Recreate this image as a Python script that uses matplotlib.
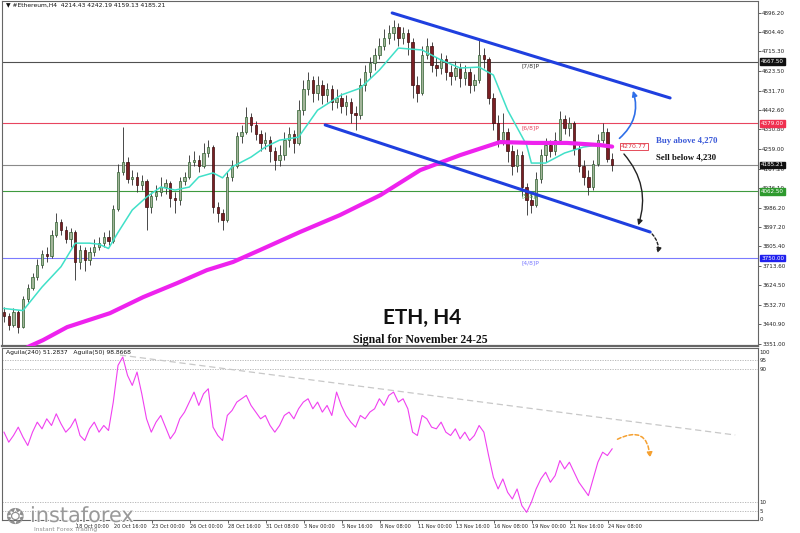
import numpy as np
import matplotlib
matplotlib.use("Agg")
import matplotlib.pyplot as plt
import matplotlib.transforms as mtransforms
import matplotlib.patheffects as pe
from matplotlib.patches import FancyArrowPatch

# ---- data (one candle = 8h) ----
closes = [3480, 3440, 3500, 3430, 3560, 3610, 3660, 3720, 3770, 3760,
          3860, 3920, 3880, 3840, 3870, 3730, 3790, 3740, 3780, 3800,
          3820, 3850, 3830, 3980, 4150, 4200, 4120, 4130, 4090, 4110,
          3990, 4040, 4060, 4080, 4100, 4030, 4020, 4110, 4130, 4200,
          4210, 4180, 4240, 4270, 3990, 3960, 3930, 4130, 4180, 4320,
          4340, 4410, 4370, 4330, 4290, 4300, 4250, 4210, 4230, 4300,
          4330, 4290, 4440, 4540, 4580, 4520, 4560, 4510, 4540, 4480,
          4500, 4460, 4480, 4430, 4420, 4560, 4620, 4660, 4700, 4740,
          4780, 4800, 4830, 4780, 4800, 4760, 4560, 4520, 4700, 4740,
          4650, 4640, 4680, 4620, 4600, 4640, 4590, 4620, 4560, 4580,
          4700, 4680, 4500, 4380, 4300, 4340, 4250, 4180, 4230, 4080,
          4020, 4000, 4120, 4230, 4280, 4250, 4300, 4400, 4360, 4380,
          4260, 4180, 4130, 4080, 4190, 4300, 4340, 4214.43, 4185.21]
highs = [3520, 3495, 3515, 3510, 3575, 3630, 3680, 3745, 3790, 3800,
         3880, 3960, 3935, 3900, 3890, 3880, 3810, 3800, 3800, 3840,
         3850, 3870, 3880, 4000, 4190, 4362, 4220, 4160, 4150, 4140,
         4120, 4060, 4090, 4130, 4120, 4110, 4060, 4130, 4150, 4230,
         4250, 4230, 4290, 4300, 4280, 4010, 3980, 4150, 4210, 4340,
         4370, 4455, 4430, 4390, 4350, 4340, 4320, 4270, 4280, 4340,
         4362, 4350, 4490, 4580, 4620, 4600, 4600, 4580, 4570, 4560,
         4540, 4520, 4510, 4500, 4460, 4590, 4650, 4690, 4730, 4780,
         4820, 4840, 4860, 4850, 4830, 4820, 4780, 4600, 4740, 4780,
         4760, 4690, 4710, 4700, 4650, 4670, 4660, 4650, 4640, 4610,
         4770, 4730, 4690, 4520, 4420, 4430, 4360, 4280, 4260, 4250,
         4100, 4060, 4150, 4260, 4310, 4300, 4340, 4435, 4420, 4410,
         4390, 4280, 4210, 4160, 4210, 4330, 4380, 4360, 4242.19]
lows = [3450, 3415, 3430, 3400, 3425, 3545, 3600, 3650, 3705, 3730,
        3750, 3850, 3860, 3820, 3800, 3650, 3700, 3690, 3720, 3760,
        3790, 3800, 3810, 3820, 3970, 4140, 4100, 4090, 4060, 4070,
        3880, 3960, 4020, 4040, 4050, 3990, 3960, 4000, 4090, 4120,
        4180, 4150, 4170, 4220, 3960, 3920, 3880, 3920, 4110, 4170,
        4290, 4330, 4340, 4300, 4250, 4260, 4200, 4160, 4180, 4210,
        4270, 4240, 4280, 4420, 4510, 4480, 4490, 4470, 4480, 4440,
        4450, 4430, 4420, 4380, 4350, 4400, 4530, 4590, 4630, 4680,
        4720, 4750, 4770, 4740, 4750, 4700, 4500, 4480, 4510, 4680,
        4620, 4600, 4610, 4580, 4560, 4580, 4550, 4560, 4520, 4530,
        4570, 4640, 4470, 4350, 4270, 4280, 4200, 4140, 4150, 4040,
        3950, 3960, 3990, 4100, 4200, 4220, 4230, 4290, 4330, 4320,
        4230, 4150, 4090, 4045, 4070, 4180, 4290, 4200, 4159.13]
first_open = 3500
opens = [first_open] + closes[:-1]

# fast moving average (turquoise), read at a few candles
ma_fast_idx = [0, 4, 8, 12, 15, 18, 20, 22, 24, 27, 30, 33, 36, 39, 41, 44, 46, 48,
               52, 55, 58, 62, 66, 71, 75, 79, 83, 88, 92, 96, 100, 103, 106, 110,
               111, 114, 118, 122, 125, 128]
ma_fast = [3515, 3505, 3615, 3710, 3820, 3820, 3815, 3795, 3870, 3975, 4035, 4082,
           4068, 4082, 4129, 4148, 4125, 4176, 4222, 4269, 4301, 4315, 4441, 4512,
           4544, 4628, 4731, 4722, 4675, 4638, 4642, 4605, 4441, 4278, 4194, 4194,
           4241, 4269, 4278, 4269]
# slow moving average (magenta)
ma_slow_idx = [2, 5.5, 8.2, 13.3, 22.3, 29.3, 36.4, 42.7, 48.2, 53.9, 62.3, 70.7,
               79.2, 87.6, 96, 104.4, 111.4, 118.5, 125.5, 128]
ma_slow = [3300, 3340, 3367, 3428, 3493, 3568, 3633, 3694, 3732, 3788, 3872, 3951,
           4044, 4161, 4231, 4292, 4288, 4288, 4278, 4270.77]

# oscillator (Aguila)
osc = [52, 46, 50, 55, 49, 44, 52, 58, 54, 60, 56, 63, 57, 52, 55, 60, 50, 47, 54, 58,
       52, 56, 53,
       70, 92, 97, 86, 80, 88, 75, 60, 52, 58,
       62, 55, 48, 52, 60, 64, 70, 76, 68, 75,
       78, 55, 50, 47, 62, 65, 70, 72, 74, 68,
       64, 60, 62, 56, 52, 56, 62, 64, 60, 66,
       70, 72, 66, 70, 64, 68, 62, 76, 68, 62,
       58, 55, 62, 60, 64, 66, 72, 68, 74, 76,
       70, 72, 66, 52, 50, 62, 60, 55, 54, 58,
       52, 50, 54, 48, 52, 47, 50, 56, 52, 38,
       25, 18, 24, 16, 12, 18, 8, 4, 10, 18,
       24, 28, 22, 26, 35, 30, 34, 28, 22, 18,
       14, 24, 34, 40, 38, 42]

levels = [4667.50, 4379.00, 4185.21, 4062.50, 3750.00]
level_colors = ["#505050", "#e8455f", "#8a8a8a", "#3f9a3f", "#7b7bff"]
level_boxes = ["#101010", "#f03050", "#101010", "#2e9a2e", "#2020ee"]
murrey_names = {4667.50: "[7/8]P", 4379.00: "[6/8]P", 4062.50: "[5/8]P", 3750.00: "[4/8]P"}

price_ticks = [4896.20, 4804.40, 4715.30, 4623.50, 4531.70, 4442.60, 4350.80, 4259.00,
               4167.20, 4076.10, 3986.20, 3897.20, 3805.40, 3713.60, 3624.50, 3532.70,
               3440.90, 3351.00]
date_labels = ["18 Oct 00:00", "20 Oct 16:00", "23 Oct 00:00", "26 Oct 00:00",
               "28 Oct 16:00", "31 Oct 08:00", "3 Nov 00:00", "5 Nov 16:00",
               "8 Nov 08:00", "11 Nov 00:00", "13 Nov 16:00", "16 Nov 08:00",
               "19 Nov 00:00", "21 Nov 16:00", "24 Nov 08:00"]

# channel (start bar, price) -> (end bar, price)
upper_channel = [(81.7, 4895), (140.2, 4498)]
lower_channel = [(67.6, 4372), (136.0, 3872)]
osc_trend = [(24.4, 98.2), (153.9, 50.3)]

# ---- figure ----
fig = plt.figure(figsize=(8, 5.33), dpi=100)
W, H = 800, 533
ax = fig.add_axes([2 / W, 1 - 346 / H, 756 / W, 345 / H])
ax2 = fig.add_axes([2 / W, 1 - 520 / H, 756 / W, 172 / H])

n = len(closes)
idx = np.arange(n)
o = np.array(opens)
c = np.array(closes)
up = c >= o

ax.vlines(idx, lows, highs, color="#2b2b2b", lw=0.6, zorder=3)
ax.bar(idx[up], (c - o)[up], bottom=o[up], width=0.5, color="#a3b59a",
       edgecolor="#2f5f2f", lw=0.5, zorder=4)
ax.bar(idx[~up], (o - c)[~up], bottom=c[~up], width=0.5, color="#7a1f24",
       edgecolor="#3a0c0c", lw=0.5, zorder=4)

ax.plot(ma_fast_idx, ma_fast, color="#40e0c8", lw=1.1, zorder=5)
ax.plot(ma_slow_idx, ma_slow, color="#ee22ee", lw=3, zorder=5, solid_capstyle="round")

for lv, col in zip(levels, level_colors):
    ax.axhline(lv, color=col, lw=0.8, zorder=1)
for lv, name in murrey_names.items():
    col = level_colors[levels.index(lv)]
    ax.text(109, lv - 8, name, fontsize=4.3, color=col if lv != 4667.50 else "#333333",
            va="top", ha="left", zorder=6)

for seg in (upper_channel, lower_channel):
    xs, ys = zip(*seg)
    ax.plot(xs, ys, color="#1f3fdf", lw=2.2, zorder=6, solid_capstyle="round")

ax.set_xlim(-0.42, 158.7)
ax.set_ylim(3339.7, 4950.8)
ax.yaxis.tick_right()
ax.set_yticks(price_ticks)
ax.set_yticklabels([f"{t:.2f}" for t in price_ticks])
ax.tick_params(axis="y", labelsize=4.1, length=2, width=0.5, pad=1, colors="#222222")
ax.set_xticks([])
for sp in ax.spines.values():
    sp.set_color("#666666")
    sp.set_linewidth(0.8)
ax.spines["bottom"].set_linewidth(1.6)

trans = mtransforms.blended_transform_factory(ax.transAxes, ax.transData)
for lv, bc in zip(levels, level_boxes):
    ax.text(1.004, lv, f"{lv:.2f}", transform=trans, fontsize=4.1, color="white",
            va="center", ha="left", zorder=8,
            bbox=dict(boxstyle="square,pad=0.15", fc=bc, ec=bc))

# arrows and signal text
ax.add_patch(FancyArrowPatch((129.1, 4301), (132.2, 4544), connectionstyle="arc3,rad=0.35",
                             arrowstyle="-|>,head_length=3,head_width=1.5", color="#2f6fe8",
                             lw=1.2, zorder=7))
ax.add_patch(FancyArrowPatch((130.1, 4246), (133.3, 3891), connectionstyle="arc3,rad=-0.3",
                             arrowstyle="-|>,head_length=3,head_width=1.5", color="#222222",
                             lw=1.0, zorder=7))
ax.add_patch(FancyArrowPatch((136.0, 3872), (137.5, 3760), connectionstyle="arc3,rad=-0.3",
                             arrowstyle="-|>,head_length=3,head_width=1.5", color="#222222",
                             lw=1.0, ls=(0, (2, 1.5)), zorder=7))
ax.text(129.8, 4270.77, "4270.77", fontsize=4.5, color="#e03040", va="center", ha="left",
        zorder=8, bbox=dict(boxstyle="square,pad=0.15", fc="white", ec="#e03040", lw=0.6))
ax.text(137.3, 4297, "Buy above 4,270", fontsize=6.3, color="#3a58d8", weight="bold",
        family="Liberation Serif", va="center", ha="left")
ax.text(137.3, 4222, "Sell below 4,230", fontsize=6.3, color="#111111", weight="bold",
        family="Liberation Serif", va="center", ha="left")

# ---- oscillator ----
ax2.plot(idx, osc, color="#f040f0", lw=0.8, zorder=4)
for lv in (95, 90, 10, 5):
    ax2.axhline(lv, color="#b0b0b0", lw=0.6, ls=(0, (1.5, 1.5)), zorder=1)
xs, ys = zip(*osc_trend)
ax2.plot(xs, ys, color="#c8c8c8", lw=0.9, ls=(0, (5, 3)), zorder=2)
ax2.add_patch(FancyArrowPatch((128.6, 47), (136.0, 35), connectionstyle="arc3,rad=-0.8",
                              arrowstyle="-|>,head_length=3,head_width=1.5", color="#f5a030",
                              lw=1.1, ls=(0, (2.5, 1.5)), zorder=7))
ax2.set_xlim(-0.42, 158.7)
ax2.set_ylim(-0.6, 102.4)
ax2.yaxis.tick_right()
ax2.set_yticks([100, 95, 90, 10, 5, 0])
ax2.tick_params(axis="y", labelsize=4.0, length=0, pad=1, colors="#222222")
tick_pos = [15.16 + 8 * j for j in range(len(date_labels))]
ax2.set_xticks(tick_pos)
ax2.set_xticklabels(date_labels, ha="left")
ax2.tick_params(axis="x", labelsize=3.6, length=2, width=0.5, pad=1, colors="#222222")
for sp in ax2.spines.values():
    sp.set_color("#666666")
    sp.set_linewidth(0.8)

# ---- texts ----
fig.text(6 / W, 1 - 2 / H, "\u25bc #Ethereum,H4  4214.43 4242.19 4159.13 4185.21",
         fontsize=4.3, va="top", ha="left", color="#111111")
fig.text(6 / W, 1 - 350 / H, "Aguila(240) 51.2837   Aguila(50) 98.8668",
         fontsize=4.3, va="top", ha="left", color="#111111")
fig.text(422 / W, 1 - 318 / H, "ETH, H4", fontsize=15, weight="bold", family="Lato",
         ha="center", va="center", color="#111111")
fig.text(420 / W, 1 - 340 / H, "Signal for November 24-25", fontsize=8.5, weight="bold",
         family="Liberation Serif", ha="center", va="center", color="#111111")
logo = fig.text(30 / W, 1 - 516 / H, "instaforex", fontsize=15, color="#8f8f8f",
                ha="left", va="center", alpha=0.9)
logo.set_path_effects([pe.withStroke(linewidth=1.5, foreground="white")])
fig.text(34 / W, 1 - 529 / H, "Instant Forex Trading", fontsize=4.3, color="#8f8f8f",
         ha="left", va="center")
fig.text(14 / W, 1 - 518 / H, "\u2742", fontsize=16, color="#8f8f8f", ha="center",
         va="center", family="DejaVu Sans")

fig.savefig("out.png", dpi=100)
